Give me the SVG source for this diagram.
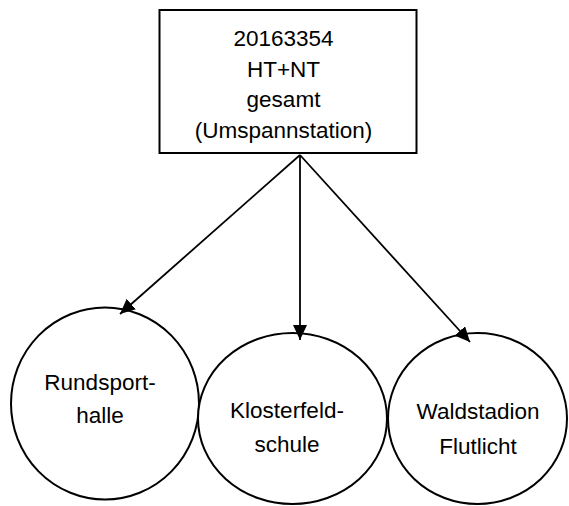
<svg xmlns="http://www.w3.org/2000/svg" width="569" height="506" viewBox="0 0 569 506">
<defs>
<style>
.node{fill:#fff;stroke:#000;stroke-width:2}
.edge{fill:none;stroke:#000;stroke-width:1.8}
text{font-family:"Liberation Sans",Arial,sans-serif;font-size:22.5px;fill:#000;text-anchor:middle}
</style>
<marker id="arr" markerUnits="userSpaceOnUse" markerWidth="16" markerHeight="14" refX="15" refY="7" orient="auto">
<path d="M0,0 L15,7 L0,14 Z" fill="#000"/>
</marker>
</defs>
<g id="n_top">
<rect class="node" x="159.5" y="10" width="257" height="143"/>
<text x="283.5" y="46">20163354</text>
<text x="283.5" y="76.7">HT+NT</text>
<text x="283.5" y="107.3">gesamt</text>
<text x="283.5" y="138">(Umspannstation)</text>
</g>
<g id="n_rundsport">
<ellipse class="node" cx="105" cy="403.5" rx="94" ry="96"/>
<text x="100" y="390">Rundsport-</text>
<text x="100" y="423">halle</text>
</g>
<g id="n_kloster">
<ellipse class="node" cx="292.5" cy="418.5" rx="94.5" ry="85.5"/>
<text x="287" y="418">Klosterfeld-</text>
<text x="287" y="452">schule</text>
</g>
<g id="n_wald">
<ellipse class="node" cx="477.5" cy="418.5" rx="89.5" ry="85.5"/>
<text x="478" y="419">Waldstadion</text>
<text x="478" y="454">Flutlicht</text>
</g>
<g id="connectors">
<line class="edge" x1="300" y1="155" x2="120" y2="314" marker-end="url(#arr)"/>
<line class="edge" x1="300" y1="155" x2="300" y2="340" marker-end="url(#arr)"/>
<line class="edge" x1="300" y1="155" x2="470" y2="342" marker-end="url(#arr)"/>
</g>
</svg>
